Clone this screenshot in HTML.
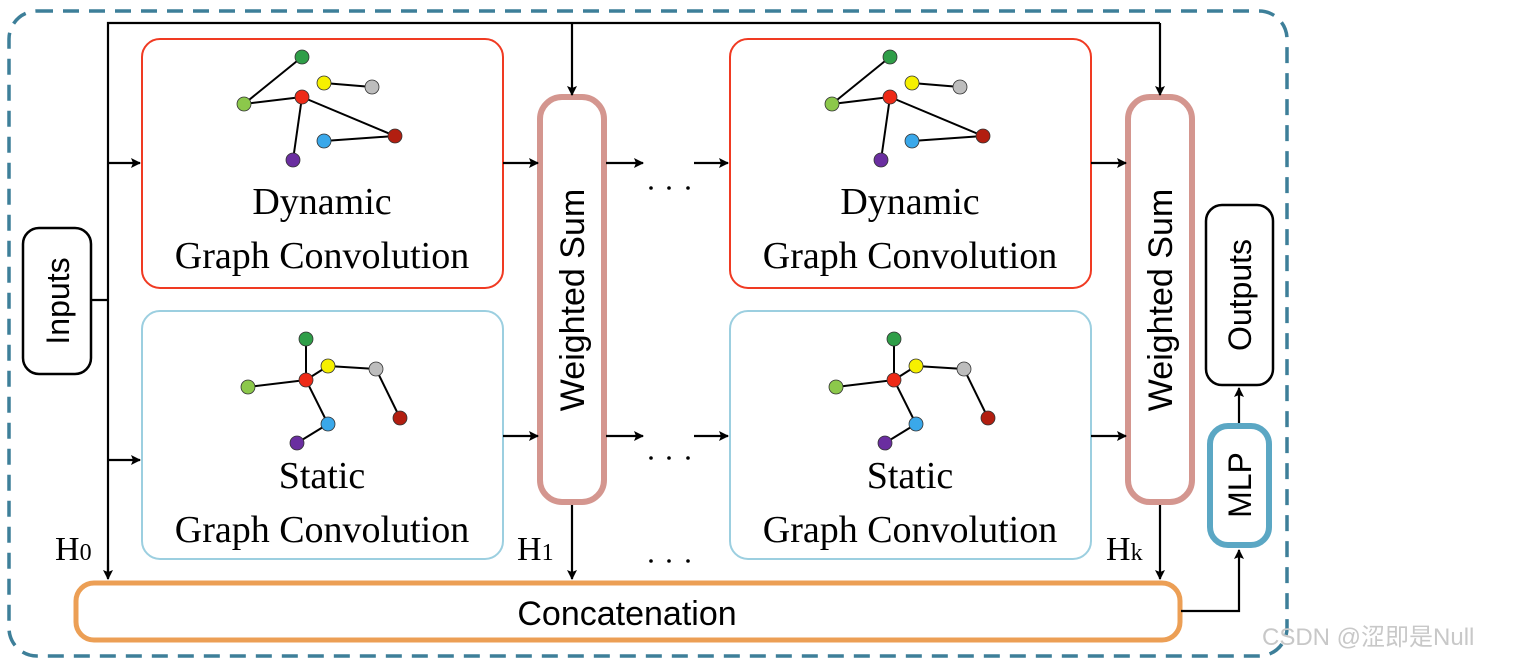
<!DOCTYPE html>
<html><head><meta charset="utf-8"><style>
html,body{margin:0;padding:0;background:#fff;}
svg{display:block;}
.serif{font-family:"Liberation Serif",serif;fill:#000;}
.sans{font-family:"Liberation Sans",sans-serif;fill:#000;}
</style></head><body>
<svg width="1514" height="663" viewBox="0 0 1514 663" xmlns="http://www.w3.org/2000/svg">
<defs>
<marker id="a" markerWidth="10" markerHeight="10" refX="9" refY="5" orient="auto" markerUnits="userSpaceOnUse">
<path d="M0,0 L10,5 L0,10 L2,5 z" fill="#000"/>
</marker>
<g id="dyn">
<g stroke="#000" stroke-width="2" fill="none">
<line x1="244" y1="104" x2="302" y2="57"/><line x1="244" y1="104" x2="302" y2="97"/>
<line x1="324" y1="83" x2="372" y2="87"/><line x1="302" y1="97" x2="395" y2="136"/>
<line x1="302" y1="97" x2="293" y2="160"/><line x1="324" y1="141" x2="395" y2="136"/>
</g>
<g stroke="#333" stroke-width="0.8">
<circle cx="302" cy="57" r="7" fill="#2f9e48"/><circle cx="324" cy="83" r="7" fill="#f6f000"/>
<circle cx="372" cy="87" r="7" fill="#bdbdbd"/><circle cx="244" cy="104" r="7" fill="#8cc84b"/>
<circle cx="302" cy="97" r="7" fill="#ee2a17"/><circle cx="395" cy="136" r="7" fill="#b21e10"/>
<circle cx="324" cy="141" r="7" fill="#3aa8ea"/><circle cx="293" cy="160" r="7" fill="#6a2ea0"/>
</g>
<text class="serif" x="322" y="214" font-size="38" text-anchor="middle">Dynamic</text>
<text class="serif" x="322" y="268" font-size="38" text-anchor="middle">Graph Convolution</text>
</g>
<g id="sta">
<g stroke="#000" stroke-width="2" fill="none">
<line x1="306" y1="339" x2="306" y2="380"/><line x1="306" y1="380" x2="248" y2="387"/>
<line x1="306" y1="380" x2="328" y2="366"/><line x1="328" y1="366" x2="376" y2="369"/>
<line x1="376" y1="369" x2="400" y2="418"/><line x1="306" y1="380" x2="328" y2="424"/>
<line x1="328" y1="424" x2="297" y2="443"/>
</g>
<g stroke="#333" stroke-width="0.8">
<circle cx="306" cy="339" r="7" fill="#2f9e48"/><circle cx="328" cy="366" r="7" fill="#f6f000"/>
<circle cx="376" cy="369" r="7" fill="#bdbdbd"/><circle cx="248" cy="387" r="7" fill="#8cc84b"/>
<circle cx="306" cy="380" r="7" fill="#ee2a17"/><circle cx="400" cy="418" r="7" fill="#b21e10"/>
<circle cx="328" cy="424" r="7" fill="#3aa8ea"/><circle cx="297" cy="443" r="7" fill="#6a2ea0"/>
</g>
<text class="serif" x="322" y="488" font-size="38" text-anchor="middle">Static</text>
<text class="serif" x="322" y="542" font-size="38" text-anchor="middle">Graph Convolution</text>
</g>
</defs>

<rect x="9" y="11" width="1278" height="645" rx="28" fill="none" stroke="#3d7f99" stroke-width="3.5" stroke-dasharray="16 10"/>

<!-- boxes -->
<rect x="142" y="39" width="361" height="249" rx="18" fill="none" stroke="#f03a22" stroke-width="2"/>
<rect x="142" y="311" width="361" height="248" rx="18" fill="none" stroke="#9ccfe0" stroke-width="2"/>
<rect x="730" y="39" width="361" height="249" rx="18" fill="none" stroke="#f03a22" stroke-width="2"/>
<rect x="730" y="311" width="361" height="248" rx="18" fill="none" stroke="#9ccfe0" stroke-width="2"/>
<use href="#dyn"/><use href="#sta"/>
<use href="#dyn" transform="translate(588,0)"/><use href="#sta" transform="translate(588,0)"/>

<rect x="540" y="97" width="64" height="405" rx="22" fill="none" stroke="#d4968f" stroke-width="6"/>
<rect x="1128" y="97" width="64" height="405" rx="22" fill="none" stroke="#d4968f" stroke-width="6"/>
<text class="sans" font-size="34" text-anchor="middle" transform="translate(584,300) rotate(-90)">Weighted Sum</text>
<text class="sans" font-size="34" text-anchor="middle" transform="translate(1172,300) rotate(-90)">Weighted Sum</text>

<rect x="23" y="228" width="68" height="146" rx="16" fill="none" stroke="#000" stroke-width="2.5"/>
<text class="sans" font-size="32" text-anchor="middle" transform="translate(69,301) rotate(-90)">Inputs</text>
<rect x="1206" y="205" width="67" height="180" rx="16" fill="none" stroke="#000" stroke-width="2.5"/>
<text class="sans" font-size="32" text-anchor="middle" transform="translate(1251,295) rotate(-90)">Outputs</text>
<rect x="1210" y="426" width="59" height="119" rx="18" fill="none" stroke="#5ba7c4" stroke-width="6"/>
<text class="sans" font-size="32" text-anchor="middle" transform="translate(1251,485) rotate(-90)">MLP</text>

<rect x="76" y="583" width="1104" height="57" rx="18" fill="none" stroke="#ec9f55" stroke-width="5"/>
<text class="sans" x="627" y="625" font-size="34" text-anchor="middle">Concatenation</text>

<!-- connectors -->
<g stroke="#000" stroke-width="2.2" fill="none">
<polyline points="108,578 108,23 1160,23"/>
<line x1="91" y1="300" x2="108" y2="300"/>
<line x1="108" y1="163" x2="140" y2="163" marker-end="url(#a)"/>
<line x1="108" y1="460" x2="140" y2="460" marker-end="url(#a)"/>
<line x1="108" y1="560" x2="108" y2="579" marker-end="url(#a)"/>
<line x1="572" y1="23" x2="572" y2="95" marker-end="url(#a)"/>
<line x1="1160" y1="23" x2="1160" y2="95" marker-end="url(#a)"/>
<line x1="503" y1="163" x2="538" y2="163" marker-end="url(#a)"/>
<line x1="606" y1="163" x2="643" y2="163" marker-end="url(#a)"/>
<line x1="694" y1="163" x2="728" y2="163" marker-end="url(#a)"/>
<line x1="1091" y1="163" x2="1126" y2="163" marker-end="url(#a)"/>
<line x1="503" y1="436" x2="538" y2="436" marker-end="url(#a)"/>
<line x1="606" y1="436" x2="643" y2="436" marker-end="url(#a)"/>
<line x1="694" y1="436" x2="728" y2="436" marker-end="url(#a)"/>
<line x1="1091" y1="436" x2="1126" y2="436" marker-end="url(#a)"/>
<line x1="572" y1="505" x2="572" y2="579" marker-end="url(#a)"/>
<line x1="1160" y1="505" x2="1160" y2="579" marker-end="url(#a)"/>
<polyline points="1181,611 1239,611 1239,550" marker-end="url(#a)"/>
<line x1="1239" y1="423" x2="1239" y2="388" marker-end="url(#a)"/>
</g>
<g fill="#000">
<circle cx="651" cy="188" r="1.8"/><circle cx="669" cy="188" r="1.8"/><circle cx="688" cy="188" r="1.8"/>
<circle cx="651" cy="458" r="1.8"/><circle cx="669" cy="458" r="1.8"/><circle cx="688" cy="458" r="1.8"/>
<circle cx="651" cy="561" r="1.8"/><circle cx="669" cy="561" r="1.8"/><circle cx="688" cy="561" r="1.8"/>
</g>
<text class="serif" x="55" y="560" font-size="34">H<tspan font-size="24">0</tspan></text>
<text class="serif" x="517" y="560" font-size="34">H<tspan font-size="24">1</tspan></text>
<text class="serif" x="1106" y="560" font-size="34">H<tspan font-size="24">k</tspan></text>

<text x="1262" y="645" font-size="24" fill="#c8c8c8" font-family="'Liberation Sans','Noto Sans CJK SC',sans-serif">CSDN @涩即是Null</text>
</svg>
</body></html>
